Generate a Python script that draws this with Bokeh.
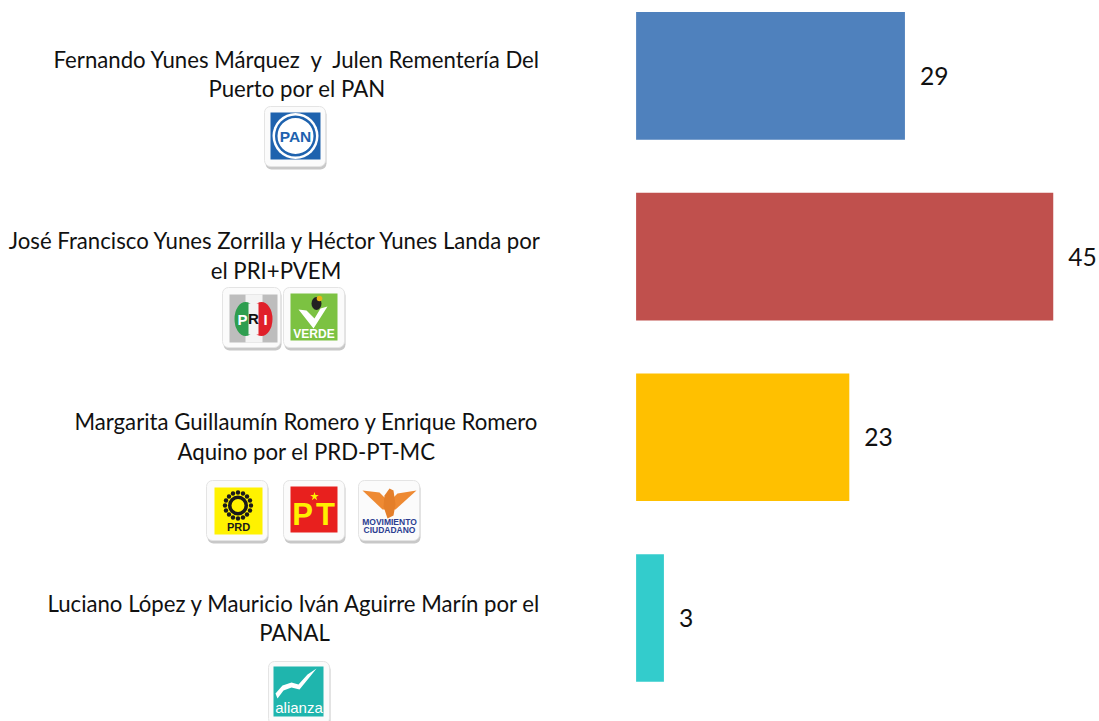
from bokeh.plotting import figure
from bokeh.models import Range1d
from bokeh.core.properties import value
from bokeh.embed import file_html
from bokeh.resources import INLINE

# ---- chart data ----
line_one = ["Fernando Yunes Márquez \u00a0y \u00a0Julen Rementería Del",
            "José Francisco Yunes Zorrilla y Héctor Yunes Landa por",
            "Margarita Guillaumín Romero y Enrique Romero",
            "Luciano López y Mauricio Iván Aguirre Marín por el"]
line_two = ["Puerto por el PAN", "el PRI+PVEM", "Aquino por el PRD-PT-MC", "PANAL"]
votes = [29, 45, 23, 3]
bar_colors = ["#4F81BD", "#C0504D", "#FFC000", "#33CCCC"]

# ---- layout (page pixels) ----
W, H = 1099, 721
PX_PER_UNIT = 9.27
ZERO_X = 635.6
ROW0_Y, ROW_STEP = 75.4, 180.7
FONT = "Lato"
LABEL_SIZE = "22.2px"
VALUE_SIZE = "24.6px"
label_centers = [297.5, 276.5, 307, 295]
line_one_y = [60, 241, 422, 604]
line_two_y = [89, 271, 452, 633]

p = figure(width=W, height=H, output_backend="svg", toolbar_location=None,
           x_range=Range1d(-ZERO_X / PX_PER_UNIT, (W - ZERO_X) / PX_PER_UNIT),
           y_range=Range1d((H - ROW0_Y) / ROW_STEP, -ROW0_Y / ROW_STEP),
           min_border=0, outline_line_color=None, background_fill_color="white")
p.axis.visible = False
p.grid.visible = False
p.extra_x_ranges["px"] = Range1d(1, W + 1)
p.extra_y_ranges["px"] = Range1d(H + 1, 1)
PX = dict(x_range_name="px", y_range_name="px")

idx = list(range(len(votes)))
p.hbar(y=idx, left=0, right=votes, height=0.706, fill_color=bar_colors, line_color=None)
p.text(x=votes, y=idx, text=[str(v) for v in votes], x_offset=15, text_align="left",
       text_baseline="middle", text_font=value(FONT), text_font_size=VALUE_SIZE, text_color="#111111")

p.text(x=label_centers, y=line_one_y, text=line_one, text_align="center", text_baseline="middle",
       text_font=value(FONT), text_font_size=LABEL_SIZE, text_color="#111111", **PX)
p.text(x=label_centers, y=line_two_y, text=line_two, text_align="center", text_baseline="middle",
       text_font=value(FONT), text_font_size=LABEL_SIZE, text_color="#111111", **PX)


# ---- party logo helpers (pixel coordinates) ----
def tile(l, t, r, b, inner=None, fill="white"):
    p.quad(left=l + 1, right=r + 1, top=t + 2, bottom=b + 3, fill_color="#9a9a9a", fill_alpha=0.55,
           line_color=None, border_radius=6, **PX)
    p.quad(left=l, right=r, top=t, bottom=b, fill_color="#fbfbfb", line_color="#e4e4e4", line_width=1,
           border_radius=6, **PX)
    if inner:
        p.quad(left=inner[0], right=inner[2], top=inner[1], bottom=inner[3], fill_color=fill,
               line_color=None, **PX)


def word(x, y, s, size, color, style="bold", font="Liberation Sans"):
    p.text(x=[x], y=[y], text=[s], text_align="center", text_baseline="middle",
           text_font=value(font), text_font_size=f"{size}px", text_font_style=style, text_color=color, **PX)


def oval(x, y, rx, ry, color):
    p.ellipse(x=[x], y=[y], width=2 * rx, height=2 * ry, fill_color=color, line_color=None, **PX)


def disc(x, y, r, color):
    oval(x, y, r, r, color)


def shape(xs, ys, color):
    p.patch(x=xs, y=ys, fill_color=color, line_color=None, **PX)


# PAN
tile(265, 107, 326, 167, (271, 113, 321, 160), "#1E62AE")
disc(296, 136.5, 23, "white")
disc(296, 136.5, 20.5, "#1E62AE")
disc(296, 136.5, 18, "white")
word(296, 137, "PAN", 15.5, "#1E62AE")

# PRI
tile(223, 288, 281, 348, (230, 295, 278, 343), "#BDBDBD")
p.quad(left=[246], right=[263], top=[295], bottom=[343], fill_color="#f4f4f4", line_color=None, **PX)
oval(246, 319.5, 11, 17, "#2E9E4F")
oval(262, 319.5, 11, 17, "#E0202A")
p.quad(left=[249], right=[259], top=[304], bottom=[335], fill_color="#f4f4f4", line_color=None, **PX)
word(243, 320, "P", 15, "white")
word(254, 319, "R", 15, "#111111")
word(266, 320, "I", 15, "white")

# VERDE
tile(284, 288, 345, 348, (291, 294, 338, 341), "#7CC242")
shape([299, 314, 328, 321, 315, 307], [310, 329, 307, 309, 319, 311], "white")
oval(317, 304, 5, 6.5, "#222222")
disc(320, 299, 2.8, "#E7B416")
word(314.5, 334, "VERDE", 12, "white")

# PRD
tile(207, 481, 268, 541, (215, 488, 263, 535), "#FFF200")
for dx, dy in [(-13, 0), (13, 0), (0, -13), (0, 13), (-9, -9), (9, -9), (-9, 9), (9, 9),
               (-12, -5), (12, -5), (-12, 5), (12, 5), (-5, -12), (5, -12), (-5, 12), (5, 12)]:
    disc(238.5 + dx, 506 + dy, 2.2, "#1a1a1a")
disc(238.5, 506, 10, "#1a1a1a")
disc(238.5, 506, 6.5, "#FFF200")
word(239, 527.5, "PRD", 11, "#1a1a1a")

# PT
tile(284, 481, 345, 541, (291, 487, 338, 533), "#E8201E")
word(303, 515, "P", 31, "#FFF000")
word(326, 515, "T", 31, "#FFF000")
p.scatter(x=[315], y=[497], size=9, marker="star", fill_color="#FFF000", line_color=None, **PX)

# Movimiento Ciudadano
tile(359, 481, 420, 541)
shape([363, 380, 386, 386, 383], [491, 493, 499, 510, 510], "#EE8A33")
shape([417, 398, 393, 392, 396], [491, 494, 499, 510, 510], "#EE8A33")
shape([385, 390, 394, 396, 394, 388, 384], [496, 489, 491, 505, 516, 519, 507], "#E47F2A")
word(390, 522, "MOVIMIENTO", 8.5, "#2C3E92")
word(390, 530, "CIUDADANO", 8.5, "#2C3E92")

# Nueva Alianza
tile(269, 662, 330, 725, (274, 667, 324, 717), "#1FB5AD")
shape([276, 283, 292, 299, 308, 317, 309, 300, 292, 284, 278],
      [694, 686, 683, 685, 675, 669, 679, 690, 688, 691, 699], "white")
word(299.5, 708, "alianza", 15, "white", style="normal")

open("out.html", "w").write(file_html(p, INLINE))
